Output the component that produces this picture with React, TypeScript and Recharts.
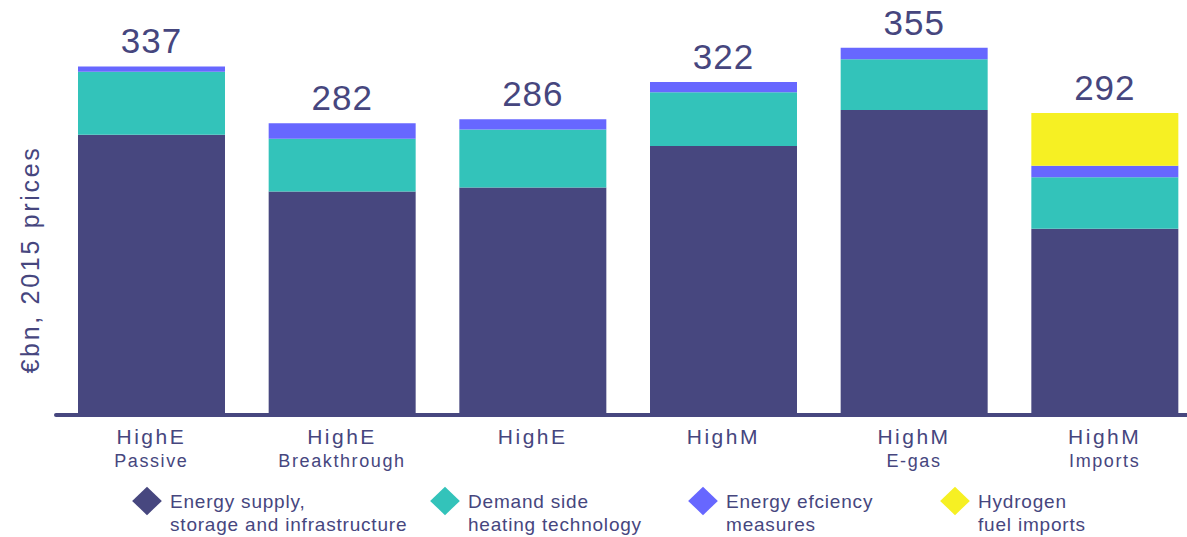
import { BarChart, Bar, XAxis, YAxis, LabelList } from 'recharts'

const scenarioTop = ['HighE', 'HighE', 'HighE', 'HighM', 'HighM', 'HighM']
const scenarioSub = ['Passive', 'Breakthrough', '', '', 'E-gas', 'Imports']

const energySupply = [271, 216, 220, 260, 295, 180]
const demandSide = [61, 51, 56, 52, 49, 50]
const efficiency = [5, 15, 10, 10, 11, 11]
const hydrogen = [0, 0, 0, 0, 0, 51]
const totals = [337, 282, 286, 322, 355, 292]

const TEXT = '#46467e'
const NAVY = '#47477f'
const TEAL = '#33c3ba'
const VIOLET = '#6767ff'
const YELLOW = '#f6f023'
const FONT = '"Liberation Sans", Arial, sans-serif'

const seriesKeys = ['energySupply', 'demandSide', 'efficiency', 'hydrogen']
const seriesColors = [NAVY, TEAL, VIOLET, YELLOW]

const legendItems = [
  { color: NAVY, lines: ['Energy supply,', 'storage and infrastructure'], left: 132 },
  { color: TEAL, lines: ['Demand side', 'heating technology'], left: 430 },
  { color: VIOLET, lines: ['Energy efciency', 'measures'], left: 688 },
  { color: YELLOW, lines: ['Hydrogen', 'fuel imports'], left: 940 },
]

const data = scenarioTop.map((top, i) => ({
  name: `${top} ${scenarioSub[i]}`.trim(),
  energySupply: energySupply[i],
  demandSide: demandSide[i],
  efficiency: efficiency[i],
  hydrogen: hydrogen[i],
}))

// index of the highest non-empty segment in each stack
const topSeries = data.map((d: any) => {
  let top = 0
  seriesKeys.forEach((k, s) => {
    if (d[k] > 0) top = s
  })
  return top
})

function makeTotalLabel(seriesIndex: number) {
  return function TotalLabel(props: any) {
    const { x, y, width, value } = props
    const i = data.findIndex((d) => d.name === value)
    if (i < 0 || topSeries[i] !== seriesIndex) return null
    return (
      <text x={x + width / 2} y={y - 13} textAnchor="middle" fill={TEXT} fontSize={35} letterSpacing={1} fontFamily={FONT}>
        {totals[i]}
      </text>
    )
  }
}

function ScenarioTick(props: any) {
  const { x, y, index } = props
  return (
    <g>
      <text x={x} y={y + 21} textAnchor="middle" fill={TEXT} fontSize={21} letterSpacing={2.5} fontFamily={FONT}>
        {scenarioTop[index]}
      </text>
      {scenarioSub[index] && (
        <text x={x} y={y + 44} textAnchor="middle" fill={TEXT} fontSize={18} letterSpacing={1.6} fontFamily={FONT}>
          {scenarioSub[index]}
        </text>
      )}
    </g>
  )
}

function UnitLabel(props: any) {
  const { viewBox } = props
  const cx = viewBox.x + 30
  const cy = viewBox.y + viewBox.height / 2 + 41
  return (
    <text
      x={cx}
      y={cy}
      transform={`rotate(-90, ${cx}, ${cy})`}
      textAnchor="middle"
      dominantBaseline="central"
      fill={TEXT}
      fontSize={25}
      letterSpacing={2.7}
      fontFamily={FONT}
    >
      €bn, 2015 prices
    </text>
  )
}

export default function App() {
  return (
    <div style={{ position: 'absolute', left: 0, top: 0, width: 1187, height: 537, overflow: 'hidden', background: '#fff' }}>
      <BarChart width={1200} height={537} data={data} margin={{ top: 22, right: 0, bottom: 0, left: 0 }} barSize={147}>
        <XAxis
          dataKey="name"
          height={122}
          interval={0}
          tickLine={false}
          axisLine={{ stroke: NAVY, strokeWidth: 4, strokeLinecap: 'round' }}
          tick={<ScenarioTick />}
        />
        <YAxis width={56} domain={[0, 380]} tick={false} axisLine={false} tickLine={false} label={<UnitLabel />} />
        {seriesKeys.map((key, s) => (
          <Bar key={key} dataKey={key} stackId="a" fill={seriesColors[s]} isAnimationActive={false}>
            <LabelList dataKey="name" content={makeTotalLabel(s)} />
          </Bar>
        ))}
      </BarChart>
      {legendItems.map((item) => (
        <div key={item.color} style={{ position: 'absolute', left: item.left, top: 490, display: 'flex', fontFamily: FONT }}>
          <div style={{ width: 30, height: 30, position: 'relative' }}>
            <div
              style={{
                position: 'absolute',
                left: 5,
                top: 1,
                width: 20,
                height: 20,
                background: item.color,
                transform: 'scaleX(1.05) rotate(45deg)',
              }}
            />
          </div>
          <div style={{ marginLeft: 8, color: TEXT, fontSize: 19, letterSpacing: 0.8, lineHeight: '23px' }}>
            {item.lines.map((l) => (
              <div key={l}>{l}</div>
            ))}
          </div>
        </div>
      ))}
    </div>
  )
}
